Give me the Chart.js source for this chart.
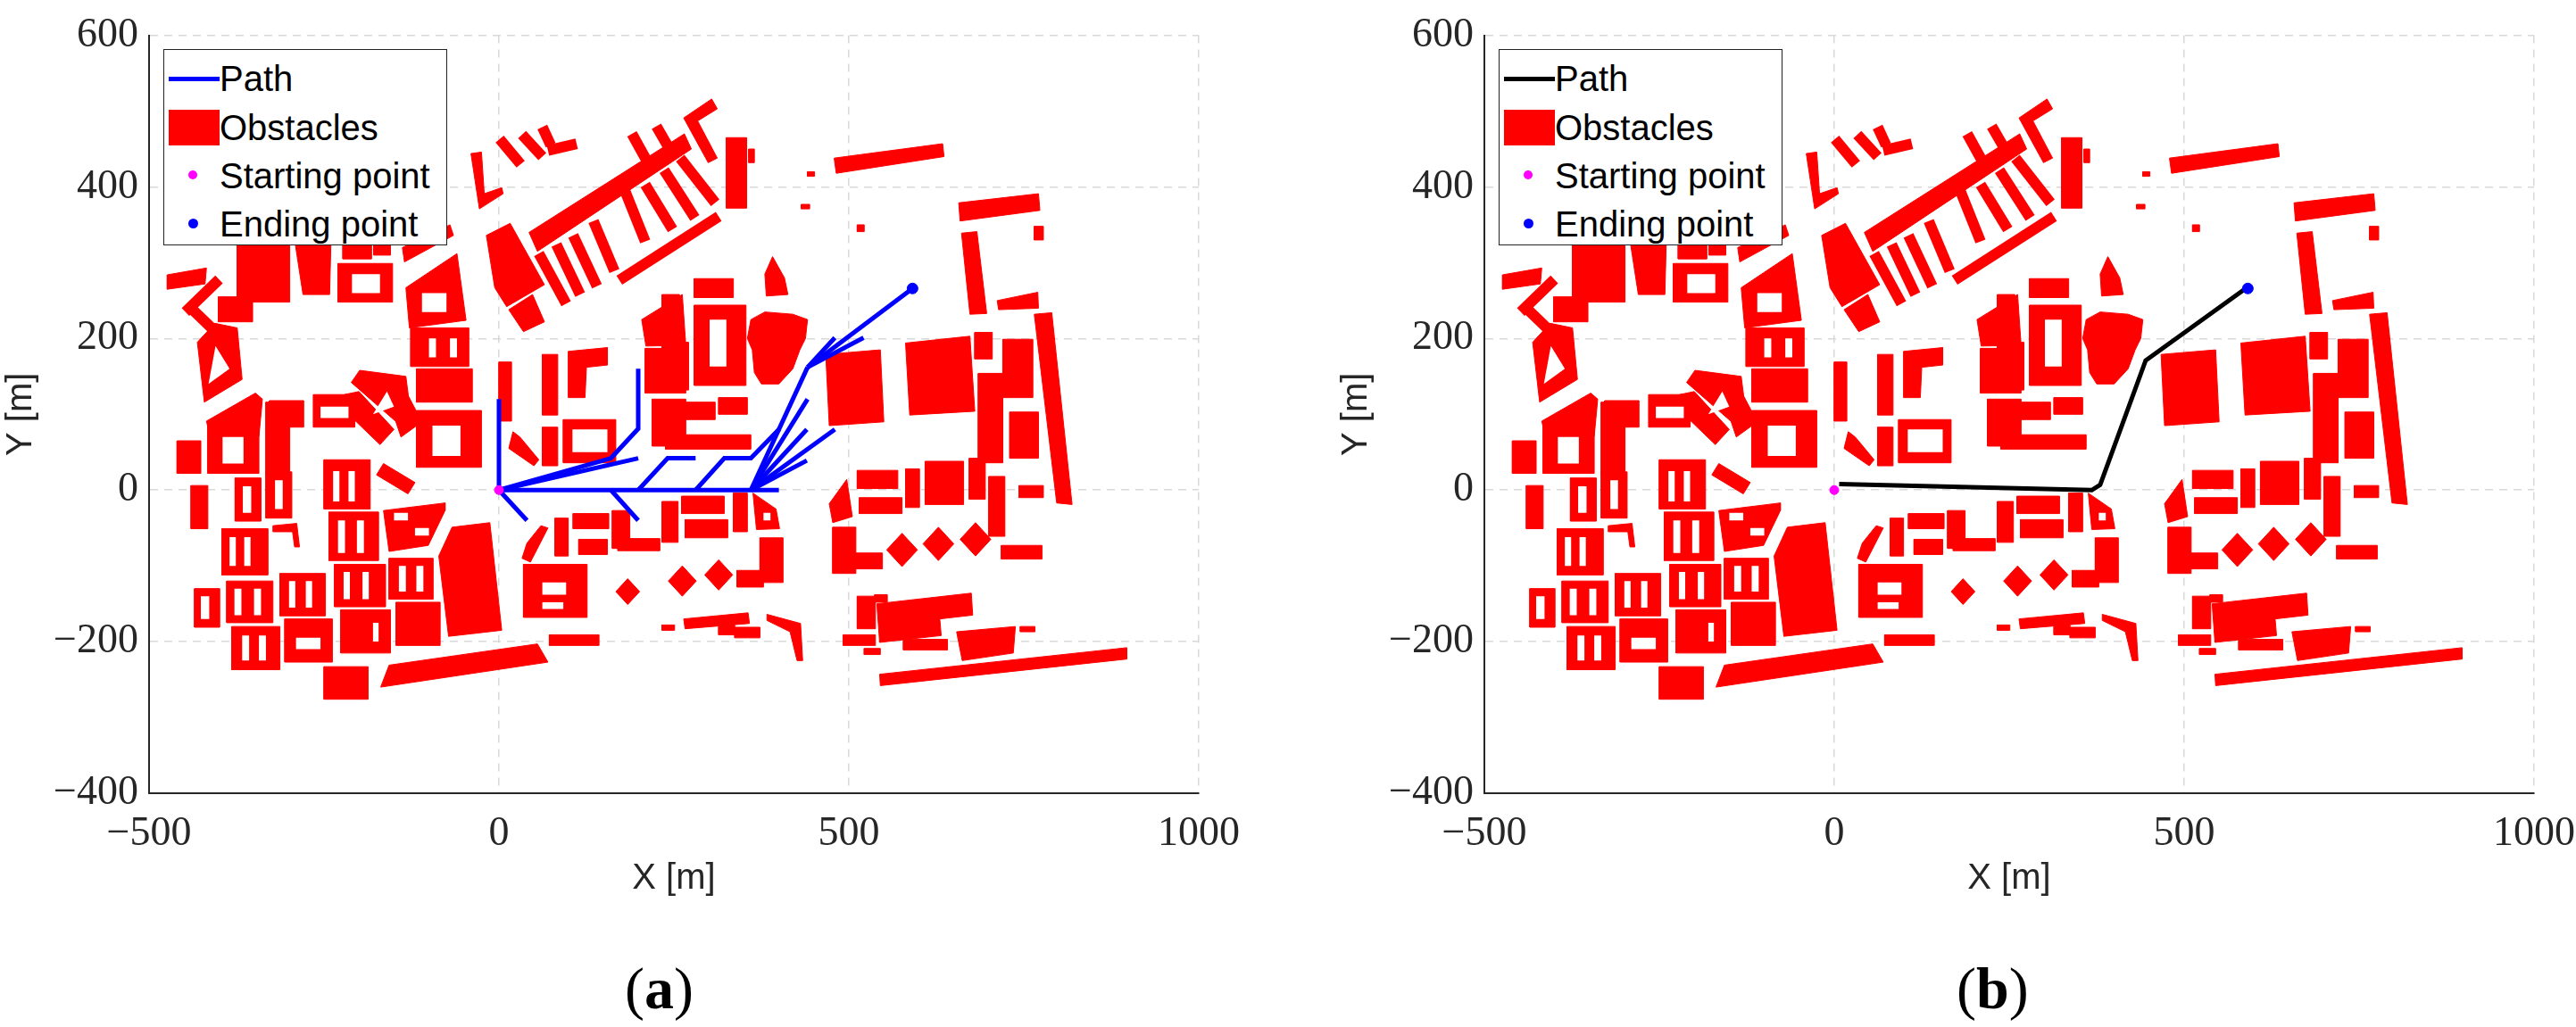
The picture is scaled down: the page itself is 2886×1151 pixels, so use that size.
<!DOCTYPE html>
<html><head><meta charset="utf-8">
<script src="https://cdn.jsdelivr.net/npm/chart.js@4/dist/chart.umd.min.js"></script>
<style>
body{margin:0;background:#fff;width:2886px;height:1151px;position:relative;overflow:hidden}
canvas{position:absolute;top:0}
.lg{position:absolute;top:55px;width:316px;height:218px;border:1.5px solid #222;background:#fff;font-family:"Liberation Sans",Arial,sans-serif;font-size:40px;color:#000}
.lg div{position:absolute;left:62px;white-space:nowrap;line-height:40px}
.cap{position:absolute;top:1070px;font-family:"Liberation Serif",serif;font-size:66px}
</style></head><body>
<canvas id="c1" width="1443" height="1151" style="left:0"></canvas>
<canvas id="c2" width="1443" height="1151" style="left:1496px"></canvas>
<div class="lg" style="left:183px" id="lg1"></div>
<div class="lg" style="left:1679px" id="lg2"></div>
<div class="cap" style="left:700px">(<b>a</b>)</div>
<div class="cap" style="left:2192px">(<b>b</b>)</div>
<script>
// ---- data (metres) ----
const xTicks=[-500,0,500,1000];
const yTicks=[-400,-200,0,200,400,600];
const startPoint=[0,0];
const endPoint=[591,266];
// tree of explored paths (a)
const treePaths=[
 [[0,0],[0,120]],
 [[0,0],[160,42],[199,81],[199,160]],
 [[0,0],[199,42]],
 [[0,0],[40,-40]],
 [[0,0],[400,0]],
 [[160,0],[199,-40]],
 [[199,0],[241,42],[281,42]],
 [[281,0],[322,42],[360,42],[401,81]],
 [[360,0],[441,162]],
 [[360,0],[441,120]],
 [[360,0],[440,80]],
 [[360,0],[480,80]],
 [[360,0],[440,39]],
 [[441,162],[591,266]],
 [[441,162],[480,201]],
 [[441,162],[521,201]]
];
// final path (b)
const finalPath=[[7,8],[368,0],[380,7],[445,171],[588,266]];
// obstacle footprints: 4 numbers = rectangle x1,y1,x2,y2 ; otherwise polygon x,y,x,y,...
const obstacles=[
 [-440,-51,-416,6],[-377,-41,-340,16],[-333,-37,-296,24],[-396,-112,-330,-51],
 [-323,-47,-289,-44,-285,-75,-292,-75,-295,-55,-323,-55],
 [-250,-25,-184,40],[-435,-181,-399,-130],[-389,-175,-323,-120],[-313,-166,-248,-110],
 [-243,-93,-172,-29],[-165,-27,-77,-17,-77,-27,-101,-73,-157,-81],
 [-235,-154,-162,-98],[-157,-144,-94,-90],[-382,-237,-313,-180],[-306,-227,-238,-170],
 [-226,-215,-155,-158],[-147,-205,-84,-148],
 [-67,-49,-13,-43,4,-185,-72,-193,-86,-87,-79,-73],
 [-157,-231,55,-203,70,-227,-169,-260],[-250,-276,-187,-233],[72,-205,143,-191],
 [60,-47,70,-50,45,-95,33,-90,40,-70],[80,-87,99,-37],[106,-51,157,-31],[114,-85,155,-65],
 [35,-168,126,-98],[162,-77,187,-27],[170,-80,230,-64],
 [167,-134,184,-117,201,-134,184,-151],[242,-120,262,-100,282,-120,262,-140],[294,-112,314,-92,334,-112,314,-132],
 [233,-69,256,-15],[261,-31,322,-8],[266,-63,327,-39],[335,-55,355,-4],
 [363,-4,396,-25,401,-51,368,-52],[373,-122,406,-63],[340,-128,378,-106],
 [233,-185,251,-178],[264,-170,356,-162,358,-176,266,-183],[314,-191,337,-178],[337,-195,373,-181],
 [383,-164,431,-176,434,-225,426,-225,416,-187,383,-172],
 [472,-18,497,14,505,-35,477,-43],[512,2,570,26],[515,-31,576,-10],[581,-23,601,28],
 [609,-19,664,38],[672,-12,695,42],[700,-61,723,18],[743,-10,778,6],
 [765,232,790,234,819,-19,797,-17],[477,-110,510,-49],[510,-104,548,-83],
 [554,-79,576,-57,598,-79,576,-101],[606,-71,628,-49,650,-71,628,-93],[659,-65,681,-43,703,-65,681,-87],
 [718,-91,776,-73],[512,-183,538,-140],[537,-148,555,-138],
 [540,-150,675,-136,677,-165,630,-170,632,-192,544,-201],
 [492,-205,538,-191],[522,-217,545,-209],[578,-211,641,-197],
 [654,-187,738,-180,735,-215,662,-225],[745,-187,766,-180],
 [544,-243,897,-208,897,-223,545,-258],
 [304,516,312,503,284,487,312,438,299,432,264,491],[325,372,354,465],[357,432,365,450],
 [479,438,634,457,636,440,482,418],[441,414,451,420],[432,371,444,377],[512,341,522,350],
 [657,379,771,391,773,369,659,355],[765,330,778,348],[661,339,683,341,697,233,673,232],
 [712,250,770,261,771,240,714,238],[391,308,408,280,413,258,382,256,380,285],
 [279,254,335,279],[233,195,258,258],[279,138,353,244],
 [360,225,380,235,420,232,441,225,438,200,430,185,420,160,400,140,375,140,365,155,362,185,355,200],
 [233,132,271,195],[467,179,545,185,550,90,472,85],[581,194,673,203,680,104,587,99],
 [680,173,705,208],[685,36,720,154],[720,122,763,199],[730,42,771,103],
 [233,90,258,108],[266,93,309,116],[314,100,355,122],[238,54,360,73],
 [-40,444,-25,446,-21,391,4,399,6,391,-28,371],
 [-18,336,16,352,65,271,11,242,-6,267],[14,238,48,258,65,222,35,209],
 [43,340,265,470,275,450,55,315],
 [-291,324,-240,330,-242,258,-280,258],[-230,248,-152,299],[-223,305,-182,332],[-179,310,-155,330],
 [-138,320,-70,350,-65,336,-135,301],[-374,248,-299,324],
 [-474,265,-420,272,-418,293,-474,284],[-401,222,-352,255],
 [-431,195,-406,220,-374,214,-367,146,-421,116],
 [-133,267,-60,312,-47,224,-128,214],[-126,163,-43,214],[-118,116,-38,160],
 [-211,142,-199,158,-133,150,-128,114,-148,91],
 [-418,91,-348,128,-338,120,-343,71,-410,60],[-328,83,-279,118],[-265,83,-206,126],
 [-221,126,-200,130,-150,80,-170,60,-215,100],[-160,125,-130,125,-110,90,-140,70],
 [-118,30,-25,105],[-460,22,-426,65],[-416,22,-343,89],[-333,22,-299,116],
 [0,91,18,169],[62,99,84,179],[99,183,155,188,155,165,125,162,123,122,99,122],
 [20,77,30,70,57,40,50,32,14,55],[62,32,84,83],[92,36,167,93],
 [204,225,262,258,267,191,210,190],[209,128,267,187],[219,58,267,120],
 [-175,20,-130,-5,-120,10,-165,35]
];
// courtyards / holes in the building blocks
const holes=[
 [-366,-30,-354,5],[-320,-25,-309,13],[-385,-100,-376,-62],[-364,-100,-355,-62],
 [-237,-15,-228,25],[-215,-15,-206,25],[-426,-170,-414,-140],
 [-378,-165,-368,-130],[-350,-165,-340,-130],[-300,-155,-291,-120],[-276,-155,-267,-120],
 [-230,-83,-220,-40],[-203,-83,-193,-40],[-150,-40,-130,-30],[-120,-60,-100,-50],
 [-222,-144,-213,-108],[-195,-144,-186,-108],[-143,-134,-133,-100],[-118,-134,-108,-100],
 [-367,-225,-357,-192],[-343,-225,-333,-192],[-290,-210,-255,-195],[-180,-200,-172,-175],
 [62,-138,96,-122],[62,-157,92,-148],[378,-40,388,-30],
 [301,163,325,225],[-210,260,-170,285],[-415,140,-385,160,-405,190],[-110,235,-75,260],
 [-100,175,-90,200],[-70,175,-60,200],[-180,100,-160,130,-150,110],
 [-395,35,-365,70],[-255,95,-215,110],[-95,45,-55,85],[105,50,155,80]
];
// thin slanted bars (segments x1,y1,x2,y2)
const bars=[
 [57,312,96,246],[82,324,116,258],[106,336,140,269],[135,355,165,289],
 [180,395,209,328],[209,403,248,344],[236,422,280,359],[259,438,309,379],
 [190,470,220,420],[225,480,250,440],[172,277,314,361],
 [1,463,31,430],[33,469,62,440],[62,479,74,455],[70,448,111,457],
 [-448,235,-400,278],[-440,240,-395,200]
];
// ---- build ----
function pts(a){
  let p=[];
  if(a.length===4){p=[[a[0],a[1]],[a[2],a[1]],[a[2],a[3]],[a[0],a[3]]];}
  else for(let i=0;i<a.length;i+=2)p.push([a[i],a[i+1]]);
  p.push(p[0]);
  return p.map(q=>({x:q[0],y:q[1]}));
}
function baseSets(){
  const ds=[];
  obstacles.forEach(o=>ds.push({type:'line',data:pts(o),showLine:true,fill:'shape',backgroundColor:'#ff0000',borderColor:'#ff0000',borderWidth:1,pointRadius:0,tension:0,order:5}));
  bars.forEach(b=>ds.push({type:'line',data:[{x:b[0],y:b[1]},{x:b[2],y:b[3]}],showLine:true,fill:false,borderColor:'#ff0000',borderWidth:12,borderCapStyle:'butt',pointRadius:0,order:5}));
  holes.forEach(h=>ds.push({type:'line',data:pts(h),showLine:true,fill:'shape',backgroundColor:'#ffffff',borderColor:'#ffffff',borderWidth:0,pointRadius:0,order:4}));
  return ds;
}
const minus=v=>String(v).replace('-','\u2212');
function makeChart(id,pathSets){
  const ds=baseSets().concat(pathSets);
  ds.push({type:'scatter',data:[{x:startPoint[0],y:startPoint[1]}],pointRadius:5,backgroundColor:'#ff00ff',borderColor:'#ff00ff',order:0});
  ds.push({type:'scatter',data:[{x:endPoint[0],y:endPoint[1]}],pointRadius:6,backgroundColor:'#0000ff',borderColor:'#0000ff',order:0});
  return new Chart(document.getElementById(id),{
    type:'scatter',data:{datasets:ds},
    options:{responsive:false,animation:false,devicePixelRatio:1,
      layout:{padding:{left:0,right:100,top:39,bottom:142}},
      plugins:{legend:{display:false},tooltip:{enabled:false}},
      scales:{
        x:{type:'linear',min:-500,max:1000,afterBuildTicks:s=>{s.ticks=xTicks.map(v=>({value:v}));},
          afterFit:s=>{s.height=120;},
          grid:{color:'#d8d8d8',lineWidth:1.5,drawTicks:false},border:{display:true,color:'#262626',width:2,dash:[9,7]},
          ticks:{padding:18,color:'#262626',font:{family:'"Liberation Serif",serif',size:46},callback:v=>minus(v),maxRotation:0},
          title:{display:true,text:'X [m]',color:'#262626',font:{family:'"Liberation Sans",Arial,sans-serif',size:40},padding:{top:0,bottom:0}}},
        y:{type:'linear',min:-400,max:600,afterBuildTicks:s=>{s.ticks=yTicks.map(v=>({value:v}));},
          afterFit:s=>{s.width=167;},
          grid:{color:'#d8d8d8',lineWidth:1.5,drawTicks:false},border:{display:true,color:'#262626',width:2,dash:[9,7]},
          ticks:{padding:12,color:'#262626',font:{family:'"Liberation Serif",serif',size:46},callback:v=>minus(v)},
          title:{display:true,text:'Y [m]',color:'#262626',font:{family:'"Liberation Sans",Arial,sans-serif',size:40},padding:{top:0,bottom:8}}}
      }}
  });
}
const blueSets=treePaths.map(p=>({type:'line',data:p.map(q=>({x:q[0],y:q[1]})),showLine:true,fill:false,borderColor:'#0000ff',borderWidth:5,pointRadius:0,order:1}));
const blackSets=[{type:'line',data:finalPath.map(q=>({x:q[0],y:q[1]})),showLine:true,fill:false,borderColor:'#000000',borderWidth:5,pointRadius:0,order:1}];
makeChart('c1',blueSets);
makeChart('c2',blackSets);
// legends
function legend(id,col){
  const el=document.getElementById(id);
  el.innerHTML=
   '<span style="position:absolute;left:5px;top:30px;width:57px;height:5px;background:'+col+'"></span>'+
   '<div style="top:12px">Path</div>'+
   '<span style="position:absolute;left:5px;top:67px;width:57px;height:40px;background:#ff0000"></span>'+
   '<div style="top:67px">Obstacles</div>'+
   '<span style="position:absolute;left:27px;top:135px;width:10px;height:10px;border-radius:50%;background:#ff00ff"></span>'+
   '<div style="top:121px">Starting point</div>'+
   '<span style="position:absolute;left:27px;top:189px;width:11px;height:11px;border-radius:50%;background:#0000ff"></span>'+
   '<div style="top:175px">Ending point</div>';
}
legend('lg1','#0000ff');legend('lg2','#000000');
</script></body></html>
